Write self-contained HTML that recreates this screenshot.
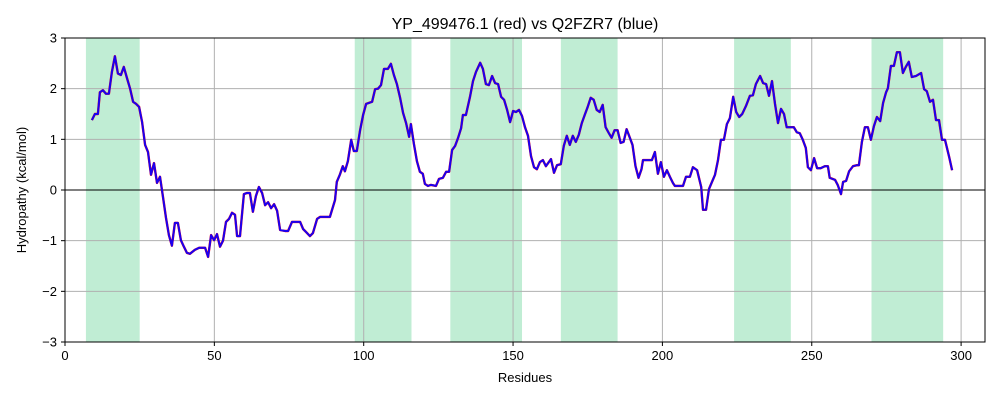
<!DOCTYPE html>
<html><head><meta charset="utf-8"><style>
body{margin:0;background:#fff;}
svg{display:block;font-family:"Liberation Sans","DejaVu Sans",sans-serif;}
</style></head><body>
<svg id="chart" width="1000" height="400" viewBox="0 0 1000 400">
<rect width="1000" height="400" fill="#fff"/>
<g id="bands"></g><g id="grid"></g><g id="lines"></g><g id="axes"></g>
</svg>
<script>
const bandStarts=[7,97,129,166,224,270];
const bandEnds=[25,116,153,185,243,294];
const xTicks=[0,50,100,150,200,250,300];
const yTicks=[-3,-2,-1,0,1,2,3];
const residues=[9,10,11,11.7,12.7,13.7,14.7,15.7,16.7,17.7,18.7,19.7,20.8,21.8,22.8,23.8,24.8,25.8,26.8,27.8,28.8,29.8,30.8,31.8,32.8,33.8,34.8,35.8,36.8,37.8,38.8,39.8,40.8,41.8,43.5,44.9,46.9,47.9,48.9,49.9,50.9,51.9,52.9,53.9,54.9,55.9,56.9,57.6,58.6,59.9,60.9,61.9,62.9,63.9,64.9,66,67,68,69,70,71,72,73.7,74.7,76,77.3,78.7,79.7,80.7,82,83,84.4,85.4,88.7,90.4,91,92,93,93.7,94.7,95.8,96.7,97.7,98.8,99.8,100.8,102.8,103.8,104.8,105.8,106.8,108.1,109.1,110.1,111.1,112.2,113.2,114.2,115.2,115.8,116.8,117.8,118.8,119.8,120.5,121.5,122.5,124.2,125.2,126.5,127.6,128.6,129.6,130.6,131.6,132.6,133.2,134.2,135.6,136.6,137.6,139,139.9,140.9,141.9,143,144,145,146,147,148,149,150,151,152,153,154,155,156,157,158,159,160,161,162.7,163.7,164.7,166,167,168,169,170,171,172,173,174,175,176,177,178,179,180,181,182,183,184,185,186,187,188,189,190,191,192,193,193.5,196.5,197.5,198.5,199.5,200.5,201.5,202.5,203.5,204.2,206.9,207.9,209.2,210.2,211.6,213,213.6,214.6,215.6,216.6,217.6,218.6,219.6,220.6,221.6,222.6,223.7,224.7,225.7,226.7,228,229.3,230.3,231.3,232.7,233.7,234.7,235.7,236.7,237.7,238.7,239.7,240.7,241.6,244,245,246,247,248,248.7,249.7,250.8,251.8,253,254.4,255.4,256,257.8,258.7,259.8,260.5,261.5,262.5,263.8,265.1,265.8,266.8,267.8,268.8,269.8,270.8,271.8,272.9,273.9,274.9,275.5,276.5,277.5,278.5,279.5,280.5,281.5,282.5,283.5,284.9,286.6,287.6,288.5,289.6,290.6,291.6,292.6,293.6,294.6,296,297];
const hydropathy=[1.38,1.5,1.5,1.93,1.97,1.9,1.9,2.33,2.64,2.3,2.27,2.43,2.2,2.0,1.74,1.7,1.64,1.34,0.89,0.75,0.3,0.53,0.14,0.26,-0.14,-0.55,-0.89,-1.1,-0.65,-0.65,-0.99,-1.12,-1.24,-1.26,-1.18,-1.14,-1.14,-1.32,-0.89,-0.99,-0.87,-1.12,-1.0,-0.63,-0.57,-0.45,-0.49,-0.91,-0.91,-0.08,-0.06,-0.06,-0.43,-0.12,0.06,-0.06,-0.3,-0.24,-0.36,-0.28,-0.41,-0.79,-0.81,-0.81,-0.63,-0.63,-0.63,-0.77,-0.83,-0.91,-0.85,-0.57,-0.53,-0.53,-0.2,0.16,0.3,0.47,0.37,0.57,0.99,0.77,0.77,1.18,1.48,1.7,1.74,1.99,2.0,2.07,2.39,2.39,2.49,2.27,2.09,1.82,1.52,1.32,1.05,1.3,0.91,0.57,0.36,0.32,0.12,0.08,0.1,0.08,0.22,0.24,0.36,0.36,0.79,0.87,1.03,1.22,1.48,1.48,1.84,2.15,2.33,2.51,2.39,2.09,2.07,2.25,2.11,2.09,1.84,1.78,1.58,1.34,1.56,1.54,1.58,1.46,1.24,1.07,0.67,0.45,0.41,0.55,0.59,0.47,0.61,0.34,0.49,0.51,0.87,1.07,0.89,1.07,0.95,1.09,1.32,1.48,1.64,1.82,1.78,1.58,1.54,1.68,1.24,1.13,1.03,1.18,1.18,0.93,0.95,1.2,1.05,0.89,0.47,0.24,0.41,0.59,0.59,0.75,0.32,0.55,0.26,0.39,0.26,0.14,0.08,0.08,0.26,0.26,0.45,0.39,0.06,-0.39,-0.39,0.02,0.16,0.3,0.59,0.99,0.99,1.3,1.42,1.84,1.54,1.44,1.5,1.66,1.86,1.87,2.09,2.25,2.11,2.09,1.86,2.15,1.7,1.32,1.6,1.5,1.24,1.24,1.14,1.12,0.99,0.83,0.45,0.39,0.63,0.43,0.43,0.47,0.47,0.24,0.2,0.1,-0.08,0.16,0.18,0.37,0.47,0.49,0.49,0.95,1.24,1.24,0.99,1.26,1.44,1.36,1.72,1.93,2.01,2.45,2.45,2.72,2.72,2.31,2.43,2.53,2.23,2.25,2.31,1.99,1.95,1.74,1.78,1.38,1.38,0.99,0.99,0.65,0.39];

const L=65,R=985,T=38,B=342,XMIN=0,XMAX=308,YMIN=-3,YMAX=3;
const sx=v=>L+(v-XMIN)/(XMAX-XMIN)*(R-L);
const sy=v=>B-(v-YMIN)/(YMAX-YMIN)*(B-T);
const NS='http://www.w3.org/2000/svg';
function mk(tag,attrs,parent,text){const e=document.createElementNS(NS,tag);for(const k in attrs)e.setAttribute(k,attrs[k]);if(text!==undefined)e.textContent=text;document.getElementById(parent).appendChild(e);return e;}

bandStarts.forEach((s,i)=>{
  const r=mk('rect',{x:sx(s),y:T,width:sx(bandEnds[i])-sx(s),height:B-T,fill:'#c0edd4'},'bands');
  
  
});
xTicks.forEach(t=>{
  const g=mk('line',{x1:sx(t),x2:sx(t),y1:T,y2:B,stroke:'#b0b0b0','stroke-width':1},'grid');
  
  
  mk('line',{x1:sx(t),x2:sx(t),y1:B,y2:B+4,stroke:'#000','stroke-width':1},'axes');
  const lb=mk('text',{x:sx(t),y:B+18,'text-anchor':'middle','font-size':13,fill:'#000'},'axes',String(t));
  
  
});
yTicks.forEach(t=>{
  const g=mk('line',{x1:L,x2:R,y1:sy(t),y2:sy(t),stroke:'#b0b0b0','stroke-width':1},'grid');
  
  
  mk('line',{x1:L-4,x2:L,y1:sy(t),y2:sy(t),stroke:'#000','stroke-width':1},'axes');
  const lb=mk('text',{x:L-8,y:sy(t)+4.5,'text-anchor':'end','font-size':13,fill:'#000'},'axes',t<0?'\u2212'+Math.abs(t):String(t));
  
  
});
const zl=mk('line',{x1:L,x2:R,y1:sy(0),y2:sy(0),stroke:'#000','stroke-width':1},'grid');


const pts=residues.map((r,i)=>sx(r).toFixed(1)+','+sy(hydropathy[i]).toFixed(1)).join(' ');
const red=mk('polyline',{points:pts,fill:'none',stroke:'#ff0000','stroke-width':2.4,'stroke-linejoin':'round'},'lines');


const blue=mk('polyline',{points:pts,fill:'none',stroke:'#1a00f0','stroke-width':2,'stroke-linejoin':'round'},'lines');


const fr=mk('rect',{x:L,y:T,width:R-L,height:B-T,fill:'none',stroke:'#000','stroke-width':1},'axes');


const ti=mk('text',{x:(L+R)/2,y:29,'text-anchor':'middle','font-size':16,fill:'#000'},'axes','YP_499476.1 (red) vs Q2FZR7 (blue)');


const xl=mk('text',{x:(L+R)/2,y:382,'text-anchor':'middle','font-size':13,fill:'#000'},'axes','Residues');


const yl=mk('text',{x:0,y:0,'text-anchor':'middle','font-size':13,fill:'#000',transform:'translate(26,190) rotate(-90)'},'axes','Hydropathy (kcal/mol)');


</script>
</body></html>
